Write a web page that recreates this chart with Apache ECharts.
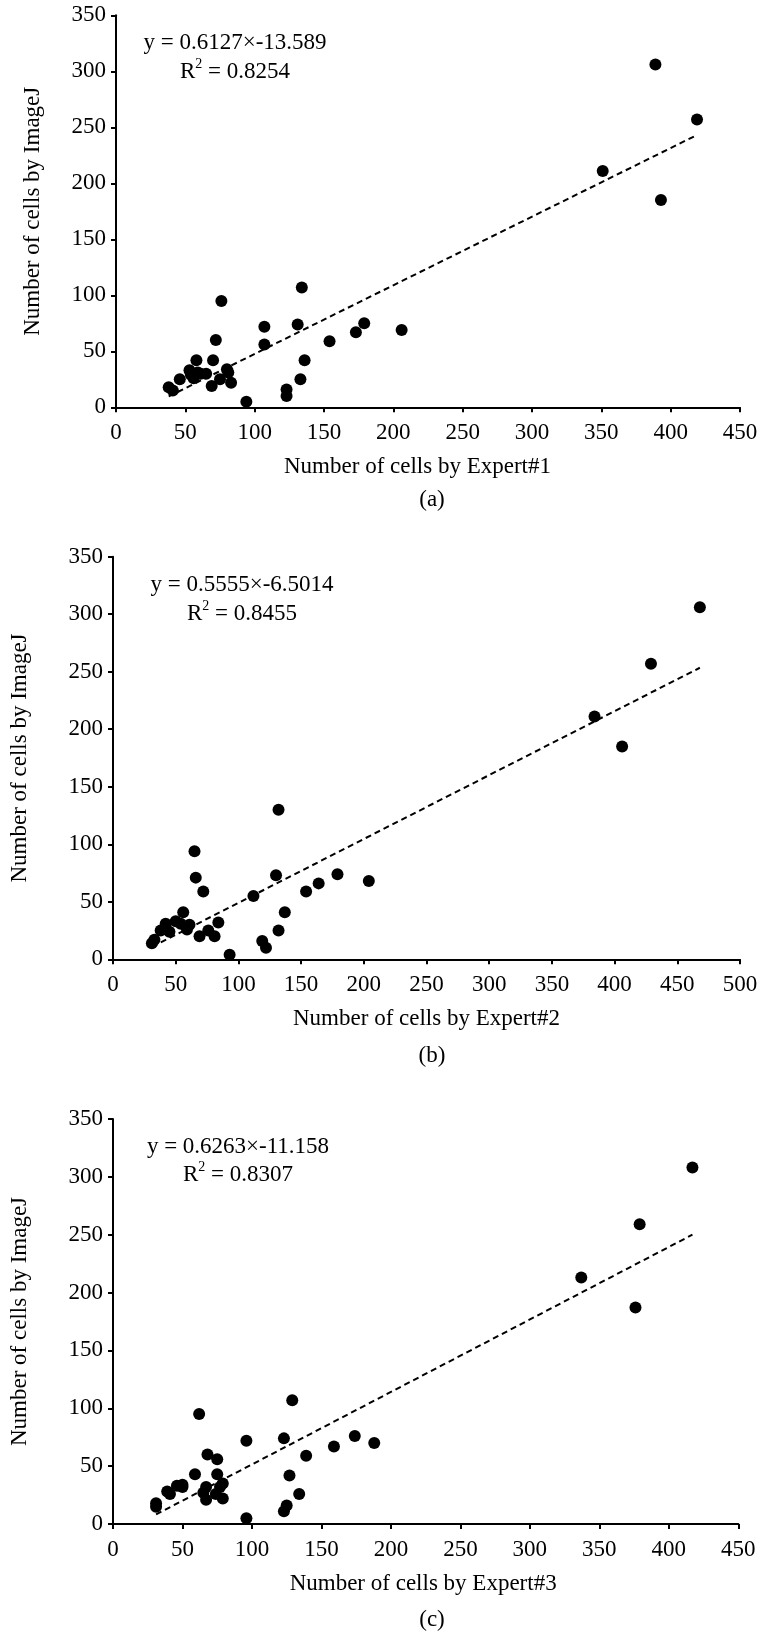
<!DOCTYPE html>
<html>
<head>
<meta charset="utf-8">
<script src="https://cdn.jsdelivr.net/npm/echarts@6/dist/echarts.min.js"></script>
<style>
  html, body { margin: 0; padding: 0; background: #fff; }
  #chart { width: 763px; height: 1633px; }
</style>
</head>
<body>
<div id="chart"></div>
<script>
// Cell counts: manual count by each expert (x) vs. automatic ImageJ count (y)
const expert1Points = [
  [38, 18], [41, 15], [46, 25], [53, 33], [54, 29], [56, 26], [58, 42], [59, 31],
  [61, 30], [65, 30], [69, 19], [70, 42], [72, 60], [75, 25], [76, 95], [80, 34],
  [81, 31], [83, 22], [94, 5], [107, 72], [107, 56], [123, 16], [123, 10], [131, 74],
  [134, 107], [133, 25], [136, 42], [154, 59], [173, 67], [179, 75], [206, 69],
  [351, 211], [389, 306], [393, 185], [419, 257]
];
const expert2Points = [
  [31, 14], [33, 17], [38, 25], [42, 31], [45, 24], [50, 33], [54, 31], [56, 41],
  [59, 26], [61, 30], [65, 94], [66, 71], [69, 20], [72, 59], [76, 25], [81, 20],
  [84, 32], [93, 4], [112, 55], [119, 16], [122, 10], [130, 73], [132, 130], [132, 25],
  [137, 41], [154, 59], [164, 66], [179, 74], [204, 68],
  [384, 211], [406, 185], [429, 257], [468, 306]
];
const expert3Points = [
  [31, 18], [31, 15], [39, 28], [41, 26], [46, 33], [50, 34], [50, 32], [59, 43],
  [62, 95], [65, 27], [67, 21], [67, 32], [68, 60], [75, 56], [75, 43], [74, 26],
  [77, 32], [79, 35], [79, 22], [96, 5], [96, 72], [123, 74], [123, 11], [125, 16],
  [127, 42], [129, 107], [134, 26], [139, 59], [159, 67], [174, 76], [188, 70],
  [337, 213], [379, 259], [376, 187], [417, 308]
];

// Linear fits (slope, intercept, R^2)
const fits = [
  { slope: 0.6127, intercept: -13.589, r2: '0.8254' },
  { slope: 0.5555, intercept: -6.5014, r2: '0.8455' },
  { slope: 0.6263, intercept: -11.158, r2: '0.8307' }
];

const xAxisNames = ['Number of cells by Expert#1', 'Number of cells by Expert#2', 'Number of cells by Expert#3'];
const yAxisName = 'Number of cells by ImageJ';
const xMaxes = [450, 500, 450];
const panelTags = ['(a)', '(b)', '(c)'];

const FONT = "'Liberation Serif', 'Times New Roman', serif";
const FS = 23;

const panels = [expert1Points, expert2Points, expert3Points];
const grids = [
  { left: 116, top: 15.3, width: 624, height: 392 },
  { left: 111.3, top: 556.7, width: 628.7, height: 402.6 },
  { left: 108.3, top: 1119, width: 630, height: 405 }
];
const eqPos = [
  { x: 235, y1: 42.7, y2: 70 },
  { x: 242, y1: 585, y2: 612 },
  { x: 238, y1: 1146.7, y2: 1173 }
];
const tagY = [500, 1056, 1620];
const xNamePad = [[0, 21, 0, 0], [0, 0, 0, 0], [0, 5, 0, 0]];

function trendLine(points, fit) {
  const xs = points.map(p => p[0]);
  const lo = Math.min.apply(null, xs), hi = Math.max.apply(null, xs);
  return [[lo, fit.slope * lo + fit.intercept], [hi, fit.slope * hi + fit.intercept]];
}

const axisCommon = {
  axisLine: { lineStyle: { color: '#000', width: 2 } },
  axisTick: { show: true, length: 5, inside: false, lineStyle: { color: '#000', width: 2 } },
  splitLine: { show: false },
  axisLabel: { color: '#000', fontFamily: FONT, fontSize: FS }
};

const option = {
  backgroundColor: '#fff',
  animation: false,
  grid: grids.map(g => Object.assign({ containLabel: false }, g)),
  xAxis: panels.map((_, i) => Object.assign({}, axisCommon, {
    type: 'value', gridIndex: i, min: 0, max: xMaxes[i], interval: 50,
    axisLabel: Object.assign({}, axisCommon.axisLabel, { margin: 14 }),
    name: xAxisNames[i], nameLocation: 'middle', nameGap: 48,
    nameTextStyle: { color: '#000', fontFamily: FONT, fontSize: FS, padding: xNamePad[i] }
  })),
  yAxis: panels.map((_, i) => Object.assign({}, axisCommon, {
    type: 'value', gridIndex: i, min: 0, max: 350, interval: 50,
    axisLabel: Object.assign({}, axisCommon.axisLabel, { margin: 10 }),
    name: yAxisName, nameLocation: 'middle', nameGap: i === 0 ? 72 : 82,
    nameTextStyle: { color: '#000', fontFamily: FONT, fontSize: FS }
  })),
  series: [].concat(
    panels.map((pts, i) => ({
      type: 'scatter', xAxisIndex: i, yAxisIndex: i, data: pts,
      symbol: 'circle', symbolSize: 12,
      itemStyle: { color: '#000', opacity: 1 }
    })),
    panels.map((pts, i) => ({
      type: 'line', xAxisIndex: i, yAxisIndex: i, data: trendLine(pts, fits[i]),
      symbol: 'none', silent: true,
      lineStyle: { color: '#000', width: 2, type: [6, 4] }
    }))
  ),
  graphic: [].concat(
    fits.map((f, i) => ({
      type: 'text', x: eqPos[i].x, y: eqPos[i].y1,
      style: {
        text: 'y = ' + f.slope + '\u00d7' + f.intercept,
        font: FS + 'px ' + FONT, fill: '#000', align: 'center', verticalAlign: 'middle'
      }
    })),
    fits.map((f, i) => ({
      type: 'text', x: eqPos[i].x, y: eqPos[i].y2,
      style: {
        text: '{b|R}{s|2}{b| = ' + f.r2 + '}',
        rich: {
          b: { fontFamily: FONT, fontSize: FS, fill: '#000', color: '#000', verticalAlign: 'bottom', lineHeight: 26 },
          s: { fontFamily: FONT, fontSize: 14, fill: '#000', color: '#000', verticalAlign: 'top', lineHeight: 26, padding: [0, 0, 8, 0] }
        },
        align: 'center', verticalAlign: 'middle'
      }
    })),
    panelTags.map((t, i) => ({
      type: 'text', x: 432, y: tagY[i],
      style: { text: t, font: FS + 'px ' + FONT, fill: '#000', align: 'center', verticalAlign: 'middle' }
    }))
  )
};

const chart = echarts.init(document.getElementById('chart'), null, { renderer: 'canvas' });
chart.setOption(option);
</script>
</body>
</html>
